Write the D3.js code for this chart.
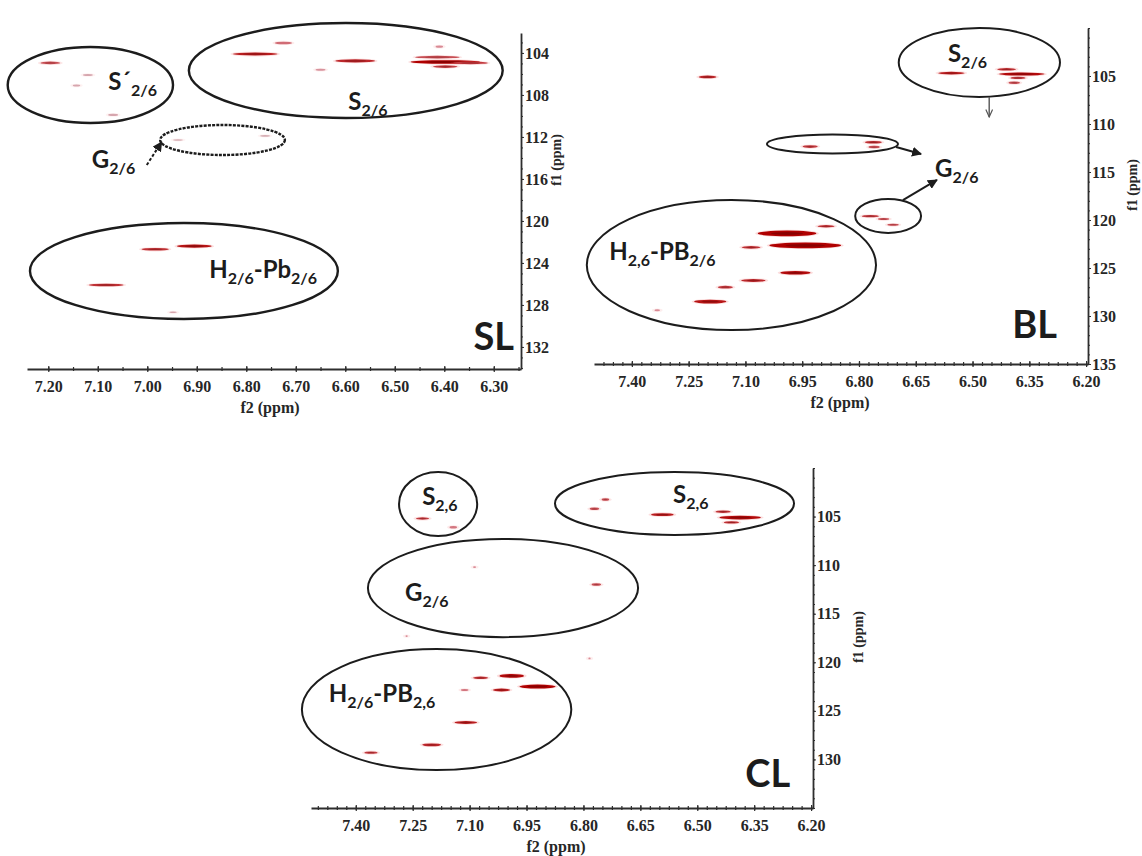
<!DOCTYPE html>
<html>
<head>
<meta charset="utf-8">
<script src="https://cdn.jsdelivr.net/npm/d3@7"></script>
<style>
  html, body { margin: 0; padding: 0; background: #fff; }
  svg { display: block; }
</style>
</head>
<body>
<svg id="chart" width="1142" height="856"></svg>
<script>
// ---------- HSQC cross-peaks ----------
// each peak: [f2 (1H, ppm), f1 (13C, ppm), f2 extent (ppm), f1 extent (ppm), relative intensity]
const slPeaks = [
  [7.196, 104.95, 0.040, 0.25, 0.60],
  [7.120, 106.10, 0.020, 0.20, 0.15],
  [7.143, 107.10, 0.015, 0.20, 0.15],
  [7.069, 109.90, 0.020, 0.20, 0.15],
  [6.725, 103.05, 0.035, 0.25, 0.45],
  [6.782, 104.10, 0.090, 0.30, 0.85],
  [6.650, 105.60, 0.020, 0.20, 0.25],
  [6.580, 104.76, 0.080, 0.30, 0.80],
  [6.414, 104.40, 0.090, 0.25, 0.60],
  [6.398, 104.86, 0.140, 0.35, 1.00],
  [6.398, 105.30, 0.050, 0.25, 0.70],
  [6.410, 103.40, 0.015, 0.20, 0.30],
  [6.347, 104.95, 0.070, 0.25, 0.70],
  [6.938, 112.29, 0.020, 0.15, 0.12],
  [6.762, 111.90, 0.020, 0.15, 0.12],
  [6.905, 122.40, 0.070, 0.30, 0.90],
  [6.984, 122.70, 0.055, 0.25, 0.75],
  [7.083, 126.10, 0.070, 0.25, 0.75],
  [6.948, 128.70, 0.015, 0.15, 0.15]
];
const blPeaks = [
  [7.200, 105.10, 0.047, 0.28, 0.80],
  [6.556, 104.70, 0.070, 0.28, 0.85],
  [6.410, 104.30, 0.050, 0.25, 0.75],
  [6.370, 104.80, 0.120, 0.32, 0.95],
  [6.380, 105.20, 0.040, 0.25, 0.70],
  [6.390, 105.70, 0.030, 0.25, 0.60],
  [6.929, 112.35, 0.040, 0.28, 0.70],
  [6.762, 111.90, 0.045, 0.28, 0.75],
  [6.760, 112.40, 0.030, 0.25, 0.60],
  [6.770, 119.60, 0.045, 0.25, 0.70],
  [6.735, 119.90, 0.030, 0.22, 0.60],
  [6.710, 120.50, 0.030, 0.22, 0.60],
  [6.887, 120.65, 0.045, 0.25, 0.75],
  [6.990, 121.40, 0.155, 0.60, 1.00],
  [7.085, 122.85, 0.050, 0.28, 0.75],
  [6.942, 122.65, 0.190, 0.60, 1.00],
  [6.968, 125.50, 0.080, 0.38, 0.95],
  [7.079, 126.30, 0.065, 0.32, 0.80],
  [7.153, 127.00, 0.040, 0.28, 0.70],
  [7.193, 128.50, 0.085, 0.40, 0.90],
  [7.333, 129.40, 0.015, 0.20, 0.30]
];
const clPeaks = [
  [7.224, 105.20, 0.035, 0.25, 0.70],
  [7.143, 106.10, 0.020, 0.25, 0.40],
  [7.087, 110.20, 0.008, 0.18, 0.30],
  [6.766, 112.00, 0.025, 0.25, 0.60],
  [6.742, 103.25, 0.020, 0.25, 0.60],
  [6.771, 104.20, 0.025, 0.25, 0.60],
  [6.592, 104.80, 0.060, 0.30, 0.85],
  [6.432, 104.50, 0.040, 0.25, 0.75],
  [6.387, 105.10, 0.110, 0.38, 0.95],
  [6.410, 105.60, 0.040, 0.25, 0.75],
  [7.266, 117.30, 0.006, 0.18, 0.30],
  [6.784, 119.60, 0.006, 0.18, 0.30],
  [6.989, 121.40, 0.065, 0.38, 0.95],
  [7.071, 121.60, 0.040, 0.25, 0.75],
  [6.921, 122.50, 0.095, 0.42, 1.00],
  [7.016, 122.85, 0.045, 0.30, 0.85],
  [7.113, 122.85, 0.020, 0.20, 0.40],
  [7.110, 126.20, 0.060, 0.30, 0.85],
  [7.200, 128.50, 0.050, 0.30, 0.80],
  [7.360, 129.30, 0.035, 0.25, 0.70]
];

// ---------- axis ticks ----------
const slXTicks = [7.20, 7.10, 7.00, 6.90, 6.80, 6.70, 6.60, 6.50, 6.40, 6.30];
const slYTicks = [104, 108, 112, 116, 120, 124, 128, 132];
const blXTicks = [7.40, 7.25, 7.10, 6.95, 6.80, 6.65, 6.50, 6.35, 6.20];
const blYTicks = [105, 110, 115, 120, 125, 130, 135];
const clXTicks = [7.40, 7.25, 7.10, 6.95, 6.80, 6.65, 6.50, 6.35, 6.20];
const clYTicks = [105, 110, 115, 120, 125, 130];

// ---------- assignment regions: [centre f2, centre f1, half-width f2, half-height f1] ----------
const slRegions = [
  [7.115, 107.05, 0.167, 3.62],
  [6.599, 105.67, 0.317, 4.52],
  [6.848, 112.29, 0.126, 1.43],
  [6.926, 124.77, 0.311, 4.57]
];
const blRegions = [
  [6.482, 103.59, 0.213, 3.59],
  [6.870, 112.08, 0.173, 0.99],
  [6.723, 119.58, 0.087, 1.77],
  [7.137, 124.69, 0.382, 6.77]
];
const clRegions = [
  [7.183, 103.71, 0.103, 3.30],
  [6.560, 103.66, 0.315, 3.24],
  [7.012, 112.36, 0.356, 5.05],
  [7.187, 124.87, 0.355, 6.23]
];

// ---------- region labels: anchor [f2, f1] and text parts [text, isSubscript] ----------
const slLabels = [
  { at: [7.079, 107.53], parts: [["S´", 0], ["2/6", 1]] },
  { at: [6.594, 109.43], parts: [["S", 0], ["2/6", 1]] },
  { at: [7.112, 114.96], parts: [["G", 0], ["2/6", 1]] },
  { at: [6.875, 125.43], parts: [["H", 0], ["2/6", 1], ["-Pb", 0], ["2/6", 1]] }
];
const blLabels = [
  { at: [6.565, 103.54], parts: [["S", 0], ["2/6", 1]] },
  { at: [6.599, 115.52], parts: [["G", 0], ["2/6", 1]] },
  { at: [7.460, 124.17], parts: [["H", 0], ["2,6", 1], ["-PB", 0], ["2/6", 1]] }
];
const clLabels = [
  { at: [7.225, 103.81], parts: [["S", 0], ["2,6", 1]] },
  { at: [6.564, 103.60], parts: [["S", 0], ["2,6", 1]] },
  { at: [7.270, 113.70], parts: [["G", 0], ["2/6", 1]] },
  { at: [7.471, 124.10], parts: [["H", 0], ["2/6", 1], ["-PB", 0], ["2,6", 1]] }
];

// ---------- arrows: [from f2, from f1, to f2, to f1] ----------
const slArrows = [[7.001, 114.67, 6.971, 112.48]];
const blArrows = [
  [6.456, 107.19, 6.456, 109.27],
  [6.702, 112.40, 6.636, 113.13],
  [6.684, 117.92, 6.594, 115.83]
];
const clArrows = [];

// ---------- sample tags ----------
const slTag = { text: "SL", at: [6.259, 132.29] };
const blTag = { text: "BL", at: [6.277, 132.29] };
const clTag = { text: "CL", at: [6.255, 132.85] };

// ---------- panel layout ----------
const panels = [
  {
    peaks: slPeaks, regions: slRegions, labels: slLabels, arrows: slArrows, tag: slTag,
    xTicks: slXTicks, yTicks: slYTicks,
    xDomain: [7.243, 6.245], yDomain: [102.1, 134.1],
    xRange: [27, 521], yRange: [33, 369],
    xMinor: 0.05, yMinor: 1,
    dashedRegions: [2], dashedArrows: [0], thinArrows: [],
    strokeW: 2.4,
    xTitleAt: 270, yTitleAt: [556, 160]
  },
  {
    peaks: blPeaks, regions: blRegions, labels: blLabels, arrows: blArrows, tag: blTag,
    xTicks: blXTicks, yTicks: blYTicks,
    xDomain: [7.50, 6.195], yDomain: [100, 135],
    xRange: [594, 1088], yRange: [28, 364],
    xMinor: 0.025, yMinor: 1,
    dashedRegions: [], dashedArrows: [], thinArrows: [0],
    strokeW: 2.0,
    xTitleAt: 840, yTitleAt: [1132, 185]
  },
  {
    peaks: clPeaks, regions: clRegions, labels: clLabels, arrows: clArrows, tag: clTag,
    xTicks: clXTicks, yTicks: clYTicks,
    xDomain: [7.518, 6.195], yDomain: [100, 135],
    xRange: [311, 813], yRange: [468, 808],
    xMinor: 0.025, yMinor: 1,
    dashedRegions: [], dashedArrows: [], thinArrows: [],
    strokeW: 2.0,
    xTitleAt: 556, yTitleAt: [858, 637]
  }
];

const SERIF = "'Liberation Serif', 'DejaVu Serif', 'Times New Roman', serif";
const SANS = "Lato, 'Open Sans', sans-serif";
const INK = "#262626";

const svg = d3.select("#chart");
const defs = svg.append("defs");
defs.append("marker")
  .attr("id", "head").attr("viewBox", "0 0 10 10").attr("refX", 9).attr("refY", 5)
  .attr("markerWidth", 5).attr("markerHeight", 5).attr("orient", "auto")
  .append("path").attr("d", "M0,0 L10,5 L0,10 z").attr("fill", "#1c1c1c");
defs.append("marker")
  .attr("id", "headThin").attr("viewBox", "0 0 10 10").attr("refX", 9).attr("refY", 5)
  .attr("markerWidth", 6).attr("markerHeight", 6).attr("orient", "auto")
  .append("path").attr("d", "M0,1 L9,5 L0,9").attr("fill", "none").attr("stroke", "#555").attr("stroke-width", 1.4);

const peakColor = d3.scaleLinear().domain([0, 0.3, 1]).range(["#d3c2c6", "#d98a95", "#b00000"]);

function styleAxisText(sel, size) {
  sel.selectAll("text")
    .style("font-family", SERIF).style("font-weight", "bold")
    .style("font-size", size + "px").style("fill", INK);
  sel.selectAll("line, path").style("stroke", "#2e2e2e");
}

function drawPanel(p) {
  const x = d3.scaleLinear().domain(p.xDomain).range(p.xRange);
  const y = d3.scaleLinear().domain(p.yDomain).range(p.yRange);
  const g = svg.append("g");
  const xAxisY = p.yRange[1];
  const yAxisX = p.xRange[1];

  // minor ticks on f2
  const xMinorVals = d3.range(Math.ceil(p.xDomain[1] / p.xMinor) * p.xMinor, p.xDomain[0], p.xMinor);
  const xMinorAxis = g.append("g").attr("transform", `translate(0,${xAxisY})`)
    .call(d3.axisBottom(x).tickValues(xMinorVals).tickFormat("").tickSize(2).tickSizeOuter(0));
  xMinorAxis.selectAll(".tick line").attr("y1", -2).attr("stroke-width", 1.2);
  xMinorAxis.select(".domain").attr("stroke-width", 1.8);
  styleAxisText(xMinorAxis, 16);

  // major f2 ticks and labels
  const xAxis = g.append("g").attr("transform", `translate(0,${xAxisY})`)
    .call(d3.axisBottom(x).tickValues(p.xTicks).tickFormat(d3.format(".2f")).tickSize(3).tickSizeOuter(0).tickPadding(9));
  xAxis.select(".domain").remove();
  xAxis.selectAll(".tick line").attr("y1", -3).attr("stroke-width", 1.2);
  styleAxisText(xAxis, 16);

  // minor ticks on f1
  const yMinorVals = d3.range(Math.ceil(p.yDomain[0]), p.yDomain[1] + 0.001, p.yMinor);
  const yMinorAxis = g.append("g").attr("transform", `translate(${yAxisX},0)`)
    .call(d3.axisRight(y).tickValues(yMinorVals).tickFormat("").tickSize(2).tickSizeOuter(0));
  yMinorAxis.select(".domain").attr("stroke-width", 1.8);
  styleAxisText(yMinorAxis, 16);

  // major f1 ticks and labels
  const yAxis = g.append("g").attr("transform", `translate(${yAxisX},0)`)
    .call(d3.axisRight(y).tickValues(p.yTicks).tickFormat(d3.format("d")).tickSize(3).tickSizeOuter(0).tickPadding(1));
  yAxis.select(".domain").remove();
  styleAxisText(yAxis, 16);

  // axis titles
  g.append("text")
    .attr("x", p.xTitleAt).attr("y", xAxisY + 44).attr("text-anchor", "middle")
    .style("font-family", SERIF).style("font-weight", "bold").style("font-size", "16px").style("fill", INK)
    .text("f2 (ppm)");
  g.append("text")
    .attr("transform", `translate(${p.yTitleAt[0]},${p.yTitleAt[1]}) rotate(-90)`)
    .attr("text-anchor", "middle").attr("dy", "0.35em")
    .style("font-family", SERIF).style("font-weight", "bold").style("font-size", "14px").style("fill", INK)
    .text("f1 (ppm)");

  // cross-peaks: soft halo, body and dark core
  const pk = g.append("g");
  p.peaks.forEach(([f2, f1, w, h, I]) => {
    const cx = x(f2), cy = y(f1);
    const rx = Math.abs(x(f2 + w / 2) - x(f2 - w / 2)) / 2;
    const ry = Math.abs(y(f1 + h / 2) - y(f1 - h / 2)) / 2;
    pk.append("ellipse").attr("cx", cx).attr("cy", cy).attr("rx", rx + 2.5).attr("ry", ry + 0.8)
      .attr("fill", "#ee5a5a").attr("opacity", 0.06 + 0.16 * I);
    pk.append("ellipse").attr("cx", cx).attr("cy", cy).attr("rx", rx).attr("ry", ry)
      .attr("fill", peakColor(I));
    if (I >= 0.6) {
      pk.append("ellipse").attr("cx", cx).attr("cy", cy).attr("rx", rx * 0.55).attr("ry", ry * 0.5)
        .attr("fill", "#5a0000").attr("opacity", 0.45 * I);
    }
  });

  // assignment regions
  p.regions.forEach(([cf2, cf1, hw, hh], i) => {
    const e = g.append("ellipse")
      .attr("cx", x(cf2)).attr("cy", y(cf1))
      .attr("rx", Math.abs(x(cf2 + hw) - x(cf2))).attr("ry", Math.abs(y(cf1 + hh) - y(cf1)))
      .attr("fill", "none").attr("stroke", "#1c1c1c").attr("stroke-width", p.strokeW);
    if (p.dashedRegions.includes(i)) e.attr("stroke-dasharray", "3 1.2").attr("stroke-width", 2.4);
  });

  // arrows
  p.arrows.forEach(([a2, a1, b2, b1], i) => {
    const thin = p.thinArrows.includes(i);
    const l = g.append("line")
      .attr("x1", x(a2)).attr("y1", y(a1)).attr("x2", x(b2)).attr("y2", y(b1))
      .attr("stroke", thin ? "#555" : "#1c1c1c").attr("stroke-width", thin ? 1.4 : 2)
      .attr("marker-end", thin ? "url(#headThin)" : "url(#head)");
    if (p.dashedArrows.includes(i)) l.attr("stroke-dasharray", "3 2");
  });

  // region labels with subscripts
  p.labels.forEach(lb => {
    const t = g.append("text")
      .attr("x", x(lb.at[0])).attr("y", y(lb.at[1]))
      .style("font-family", SANS).style("font-weight", "bold").style("font-size", "24px").style("fill", "#1c1c1c");
    let sub = false;
    lb.parts.forEach(([s, isSub]) => {
      const ts = t.append("tspan").text(s);
      if (isSub) ts.style("font-size", "16px");
      if (isSub && !sub) { ts.attr("dy", 6); sub = true; }
      else if (!isSub && sub) { ts.attr("dy", -6); sub = false; }
    });
  });

  // sample tag
  g.append("text")
    .attr("x", x(p.tag.at[0])).attr("y", y(p.tag.at[1])).attr("text-anchor", "end")
    .style("font-family", SANS).style("font-weight", "bold").style("font-size", "38px").style("fill", "#1c1c1c")
    .text(p.tag.text);
}

panels.forEach(drawPanel);
</script>
</body>
</html>
